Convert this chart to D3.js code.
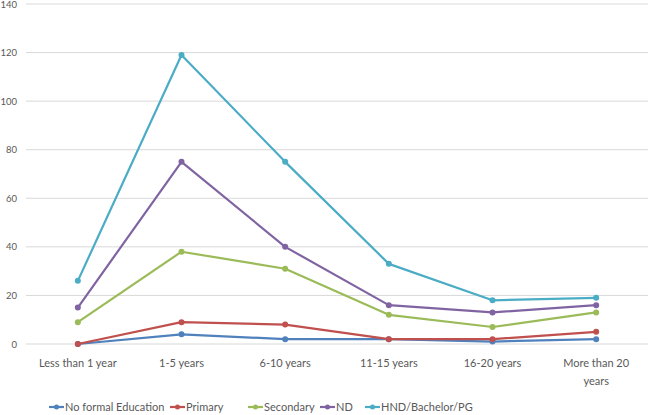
<!DOCTYPE html>
<html>
<head>
<meta charset="utf-8">
<script src="https://cdn.jsdelivr.net/npm/d3@7"></script>
<style>
  body { margin: 0; background: #fff; }
  text { font-family: Lato, "Open Sans", sans-serif; fill: #595959; }
</style>
</head>
<body>
<div id="chart"></div>
<script>
const categories = ["Less than 1 year", "1-5 years", "6-10 years", "11-15 years", "16-20 years", "More than 20 years"];
const seriesNames = ["No formal Education", "Primary", "Secondary", "ND", "HND/Bachelor/PG"];
const noFormal = [0, 4, 2, 2, 1, 2];
const primary = [0, 9, 8, 2, 2, 5];
const secondary = [9, 38, 31, 12, 7, 13];
const nd = [15, 75, 40, 16, 13, 16];
const hnd = [26, 119, 75, 33, 18, 19];
const yTicks = [0, 20, 40, 60, 80, 100, 120, 140];
const colors = ["#4F81BD", "#C0504D", "#9BBB59", "#8064A2", "#4BACC6"];

const width = 649, height = 415;
const series = [noFormal, primary, secondary, nd, hnd];

const svg = d3.select("#chart").append("svg")
  .attr("width", width)
  .attr("height", height);

const x = d3.scaleBand()
  .domain(categories)
  .range([26, 648]);

const y = d3.scaleLinear()
  .domain([0, 140])
  .range([344, 4]);

// gridlines
svg.append("g")
  .selectAll("line")
  .data(yTicks)
  .enter().append("line")
    .attr("x1", 26)
    .attr("x2", 648)
    .attr("y1", d => y(d))
    .attr("y2", d => y(d))
    .attr("stroke", "#d9d9d9")
    .attr("stroke-width", 1);

// y labels
svg.append("g")
  .selectAll("text")
  .data(yTicks)
  .enter().append("text")
    .attr("x", 17)
    .attr("y", d => y(d) + 3.5)
    .attr("text-anchor", "end")
    .style("font-size", "9.5px")
    .text(d => d);

// x labels, last one wraps
const xl = svg.append("g")
  .selectAll("text")
  .data(categories)
  .enter().append("text")
    .attr("x", d => x(d) + x.bandwidth() / 2)
    .attr("y", 367)
    .attr("text-anchor", "middle")
    .style("font-size", "11px");

xl.each(function(d) {
  const t = d3.select(this);
  if (d === "More than 20 years") {
    t.append("tspan").attr("x", x(d) + x.bandwidth() / 2).text("More than 20");
    t.append("tspan").attr("x", x(d) + x.bandwidth() / 2).attr("dy", 18).text("years");
  } else {
    t.text(d);
  }
});

const line = d3.line()
  .x((d, i) => x(categories[i]) + x.bandwidth() / 2)
  .y(d => y(d));

series.forEach((s, k) => {
  svg.append("path")
    .datum(s)
    .attr("fill", "none")
    .attr("stroke", colors[k])
    .attr("stroke-width", 2.2)
    .attr("stroke-linejoin", "round")
    .attr("d", line);

  svg.append("g")
    .selectAll("circle")
    .data(s)
    .enter().append("circle")
      .attr("cx", (d, i) => x(categories[i]) + x.bandwidth() / 2)
      .attr("cy", d => y(d))
      .attr("r", 3)
      .attr("fill", colors[k]);
});

// legend
const legendX = [49, 170, 248, 320, 365];
const legend = svg.append("g");
seriesNames.forEach((name, k) => {
  const g = legend.append("g").attr("transform", "translate(" + legendX[k] + ",407)");
  g.append("line")
    .attr("x1", 0).attr("x2", 15)
    .attr("stroke", colors[k])
    .attr("stroke-width", 2.2);
  g.append("circle").attr("cx", 7.5).attr("r", 2.5).attr("fill", colors[k]);
  g.append("text")
    .attr("x", 16)
    .attr("y", 4)
    .style("font-size", "11px")
    .text(name);
});
</script>
</body>
</html>
